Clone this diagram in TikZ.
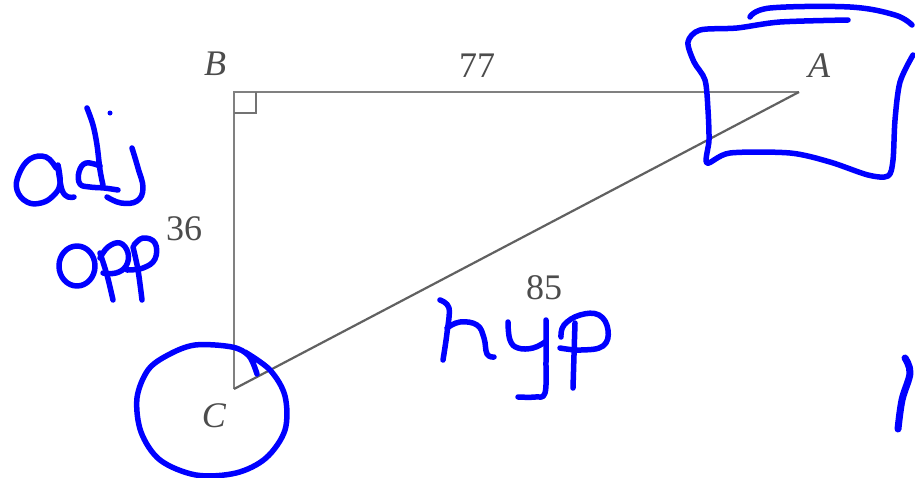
\documentclass[tikz,border=0pt]{standalone}
\usepackage{fontspec}
\setmainfont{Liberation Serif}
\begin{document}
\begin{tikzpicture}[x=1pt,y=-1pt,
  side/.style={draw=black!50,line width=2.8pt},
  hypside/.style={draw=black!62,line width=2.2pt},
  lbl/.style={text=black!70,font=\fontsize{36}{40}\selectfont,inner sep=0pt},
  ink/.style={draw=blue,line width=5.5pt,line cap=round,line join=round},
]
\useasboundingbox[fill=white] (0,0) rectangle (915,477);
\coordinate (B) at (234,92);
\coordinate (A) at (799,92);
\coordinate (C) at (234,389);
\draw[side] (C) -- (B) -- (A);
\draw[hypside] (C) -- (A);
\draw[draw=black!55,line width=2.2pt] (234,113) -- (256,113) -- (256,92);
\node[lbl] (lB) at (215,64) {\itshape B};
\node[lbl] (lA) at (819,66) {\itshape A};
\node[lbl] (lC) at (214,416) {\itshape C};
\node[lbl] (l77) at (477,66) {77};
\node[lbl] (l36) at (184,229) {36};
\node[lbl] (l85) at (544,288) {85};
% adj
\draw[ink] plot[smooth,tension=0.7] coordinates {(56,168) (46,157) (30,159) (19,174) (17,190) (27,202) (41,203) (53,196) (60,184) (58,165)};
\draw[ink] plot[smooth,tension=0.6] coordinates {(58,168) (62,190) (68,197) (74,197)};
\draw[ink] plot[smooth,tension=0.7] coordinates {(100,166) (86,163) (79,172) (80,184) (90,187) (104,188) (118,190)};
\draw[ink] plot[smooth,tension=0.6] coordinates {(87,108) (93,125) (97,145) (100,170) (103,185)};
\draw[ink] plot[smooth,tension=0.7] coordinates {(132,148) (138,168) (143,188) (137,201) (121,203) (107,197)};
\fill[blue] (110,113) circle (2.5);
% opp
\draw[ink] (77,266) ellipse (18 and 20);
\draw[ink] plot[smooth,tension=0.6] coordinates {(100,253) (107,275) (113,300)};
\draw[ink] plot[smooth,tension=0.7] coordinates {(100,258) (108,247) (120,243) (128,253) (126,266) (116,273) (103,273)};
\draw[ink] plot[smooth,tension=0.6] coordinates {(133,247) (138,270) (142,300)};
\draw[ink] plot[smooth,tension=0.7] coordinates {(134,245) (143,238) (155,243) (155,259) (143,268) (127,270)};
% hyp
\draw[ink] plot[smooth,tension=0.6] coordinates {(440,300) (449,308) (447,333) (443,360)};
\draw[ink] plot[smooth,tension=0.7] coordinates {(447,328) (460,322) (477,325) (484,338) (487,354) (494,357)};
\draw[ink] plot[smooth,tension=0.7] coordinates {(508,322) (510,340) (518,348) (533,348) (545,342)};
\draw[ink] plot[smooth,tension=0.6] coordinates {(546,320) (546,360) (545,393) (535,397) (518,397)};
\draw[ink] plot[smooth,tension=0.6] coordinates {(575,323) (574,355) (573,388)};
\draw[ink] plot[smooth,tension=0.7] coordinates {(561,337) (564,325) (580,315) (599,315) (608,330) (603,346) (581,350) (560,348)};
% box around A
\draw[ink] plot[smooth,tension=0.5] coordinates {(848,20) (780,22) (737,28) (700,30) (688,42) (694,62) (705,80) (708,110) (709,140) (707,163) (730,153) (790,153) (830,162) (868,175) (888,176) (893,160) (895,120) (900,82) (913,55)};
\draw[ink] plot[smooth,tension=0.6] coordinates {(750,17) (770,8) (850,7) (895,15) (912,25)};
% circle round C
\draw[ink] plot[smooth,tension=0.55] coordinates {(257,374) (249,356) (232,347) (195,345) (168,355) (148,370) (137,398) (141,432) (160,460) (196,475) (236,473) (266,458) (285,430) (285,396) (270,370) (245,352)};
% mark at right edge
\draw[ink,line width=7pt] plot[smooth,tension=0.6] coordinates {(905,358) (910,373) (902,400) (898,429)};
\end{tikzpicture}
\end{document}
